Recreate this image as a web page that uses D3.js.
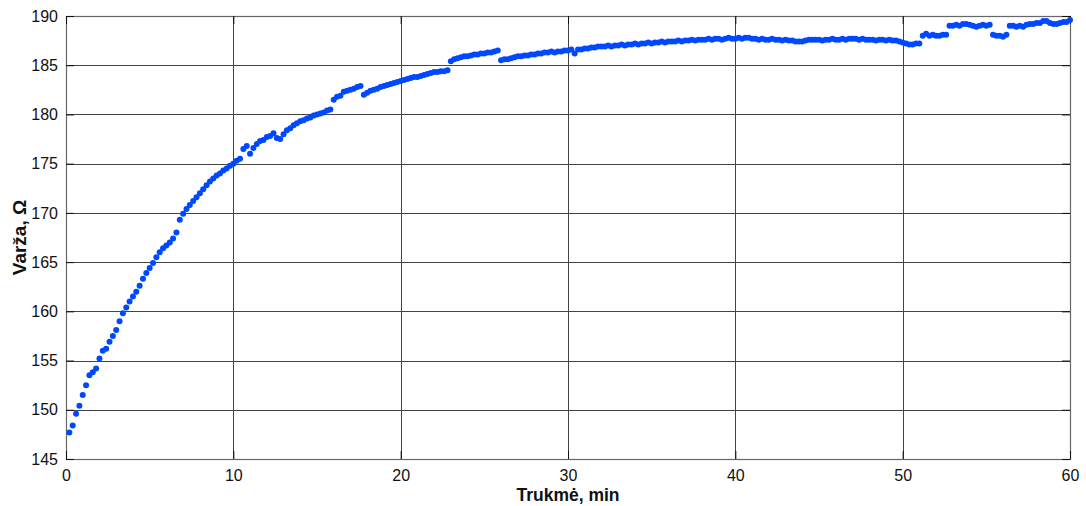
<!DOCTYPE html>
<html>
<head>
<meta charset="utf-8">
<script src="https://cdnjs.cloudflare.com/ajax/libs/d3/7.8.5/d3.min.js"></script>
<style>
  body { margin: 0; background: #fff; }
  svg text { font-family: "Liberation Sans", Arial, sans-serif; fill: #111; }
</style>
</head>
<body>
<div id="chart"></div>
<script>
// tick labels
var xTicks = [0, 10, 20, 30, 40, 50, 60];
var yTicks = [145, 150, 155, 160, 165, 170, 175, 180, 185, 190];

// sampling of the measurement, min
var sampleStart = 0.2, sampleStep = 0.2;

// resistance readings, Ohm (one per sample)
var resistance = [
  147.7, 148.4, 149.6, 150.4, 151.5, 152.5, 153.5, 153.8, 154.2, 155.2,
  156.0, 156.2, 156.9, 157.5, 158.1, 159.0, 159.8, 160.4, 161.0, 161.5,
  162.0, 162.6, 163.3, 163.9, 164.4, 164.9, 165.5, 166.0, 166.4, 166.7,
  167.0, 167.4, 168.0, 169.3, 169.9, 170.4, 170.8, 171.2, 171.6, 172.0,
  172.4, 172.8, 173.2, 173.5, 173.8, 174.0, 174.3, 174.5, 174.8, 175.0,
  175.3, 175.5, 176.5, 176.8, 176.0, 176.6, 177.0, 177.3, 177.4, 177.7,
  177.8, 178.1, 177.6, 177.5, 178.0, 178.4, 178.6, 178.9, 179.1, 179.3,
  179.4, 179.6, 179.7, 179.9, 180.0, 180.1, 180.2, 180.4, 180.5, 181.5,
  181.8, 181.9, 182.3, 182.4, 182.5, 182.6, 182.8, 182.9, 182.0, 182.2,
  182.4, 182.5, 182.6, 182.8, 182.9, 183.0, 183.1, 183.2, 183.3, 183.4,
  183.5, 183.6, 183.7, 183.8, 183.8, 183.9, 184.0, 184.1, 184.2, 184.3,
  184.3, 184.4, 184.4, 184.5, 185.4, 185.6, 185.7, 185.8, 185.9, 185.9,
  186.0, 186.1, 186.1, 186.2, 186.2, 186.3, 186.3, 186.4, 186.5, 185.5,
  185.6, 185.6, 185.7, 185.8, 185.9, 185.9, 186.0, 186.0, 186.1, 186.1,
  186.2, 186.2, 186.3, 186.3, 186.4, 186.3, 186.4, 186.4, 186.5, 186.5,
  186.6, 186.2, 186.6, 186.6, 186.7, 186.7, 186.8, 186.8, 186.9, 186.9,
  186.9, 187.0, 186.9, 187.0, 187.0, 187.1, 187.0, 187.1, 187.1, 187.2,
  187.1, 187.2, 187.2, 187.3, 187.2, 187.3, 187.3, 187.4, 187.3, 187.4,
  187.4, 187.4, 187.5, 187.4, 187.5, 187.5, 187.6, 187.5, 187.6, 187.6,
  187.6, 187.7, 187.6, 187.7, 187.7, 187.6, 187.7, 187.8, 187.7, 187.7,
  187.8, 187.7, 187.8, 187.8, 187.7, 187.7, 187.6, 187.7, 187.6, 187.6,
  187.7, 187.6, 187.6, 187.5, 187.6, 187.5, 187.5, 187.4, 187.4, 187.4,
  187.5, 187.6, 187.6, 187.6, 187.6, 187.5, 187.6, 187.6, 187.7, 187.6,
  187.6, 187.7, 187.6, 187.7, 187.7, 187.7, 187.6, 187.7, 187.6, 187.6,
  187.6, 187.5, 187.6, 187.6, 187.5, 187.6, 187.5, 187.5, 187.4, 187.3,
  187.2, 187.1, 187.1, 187.2, 187.2, 188.0, 188.2, 188.0, 188.1, 188.0,
  188.0, 188.1, 188.1, 189.0, 189.0, 189.1, 189.0, 189.2, 189.2, 189.1,
  189.0, 188.9, 189.0, 189.1, 189.0, 189.1, 188.1, 188.0, 188.0, 187.9,
  188.1, 189.0, 189.0, 188.9, 189.0, 188.9, 189.1, 189.2, 189.2, 189.3,
  189.3, 189.5, 189.5, 189.3, 189.2, 189.2, 189.3, 189.4, 189.4, 189.6
];

var data = resistance.map(function(v, i) {
  return { t: sampleStart + i * sampleStep, r: v };
});

var W = 1086, H = 506;
var margin = {top: 16, right: 16, bottom: 47, left: 66},
    width = W - margin.left - margin.right,
    height = H - margin.top - margin.bottom;

var svg = d3.select("#chart")
  .append("svg")
    .attr("width", W)
    .attr("height", H)
  .append("g")
    .attr("transform", "translate(" + margin.left + "," + margin.top + ")");

var x = d3.scaleLinear().domain([0, 60]).range([0, width]);
var y = d3.scaleLinear().domain([145, 190]).range([height, 0]);

// grid
svg.append("g")
  .selectAll("line.gx")
  .data(xTicks)
  .enter().append("line")
    .attr("x1", function(d) { return Math.round(x(d)) + 0.5; })
    .attr("x2", function(d) { return Math.round(x(d)) + 0.5; })
    .attr("y1", 0).attr("y2", height)
    .attr("stroke", "#444").attr("stroke-width", 1);
svg.append("g")
  .selectAll("line.gy")
  .data(yTicks)
  .enter().append("line")
    .attr("y1", function(d) { return Math.round(y(d)) + 0.5; })
    .attr("y2", function(d) { return Math.round(y(d)) + 0.5; })
    .attr("x1", 0).attr("x2", width)
    .attr("stroke", "#444").attr("stroke-width", 1);

// box
svg.append("rect")
  .attr("x", 0.5).attr("y", 0.5)
  .attr("width", width).attr("height", height)
  .attr("fill", "none").attr("stroke", "#666").attr("stroke-width", 1.2);

// axes with inward ticks
var axB = svg.append("g")
  .attr("transform", "translate(0," + height + ")")
  .call(d3.axisBottom(x).tickValues(xTicks).tickSize(-8).tickPadding(11));
var axT = svg.append("g")
  .call(d3.axisTop(x).tickValues(xTicks).tickSize(-8).tickFormat(""));
var axL = svg.append("g")
  .call(d3.axisLeft(y).tickValues(yTicks).tickSize(-8).tickPadding(12));
var axR = svg.append("g")
  .attr("transform", "translate(" + width + ",0)")
  .call(d3.axisRight(y).tickValues(yTicks).tickSize(-8).tickFormat(""));

[axB, axT, axL, axR].forEach(function(a) {
  a.select(".domain").remove();
  a.selectAll(".tick line").attr("stroke", "#111");
  a.selectAll("text")
    .style("font-size", "16px")
    .style("font-family", "'Liberation Sans', Arial, sans-serif")
    .attr("fill", "#111");
});
axL.selectAll("text").attr("dx", "4");

// points
svg.append("g")
  .selectAll("circle")
  .data(data)
  .enter().append("circle")
    .attr("cx", function(d) { return x(d.t); })
    .attr("cy", function(d) { return y(d.r); })
    .attr("r", 3)
    .attr("fill", "#0048ff");

// axis titles
svg.append("text")
  .attr("transform", "rotate(-90)")
  .attr("x", -height / 2)
  .attr("y", 7 - margin.left)
  .attr("dy", "1em")
  .style("text-anchor", "middle")
  .style("font-size", "19px")
  .style("font-weight", "bold")
  .text("Varža, Ω");

svg.append("text")
  .attr("x", width / 2)
  .attr("y", height + 42)
  .style("text-anchor", "middle")
  .style("font-size", "17.5px")
  .style("font-weight", "bold")
  .text("Trukmė, min");
</script>
</body>
</html>
